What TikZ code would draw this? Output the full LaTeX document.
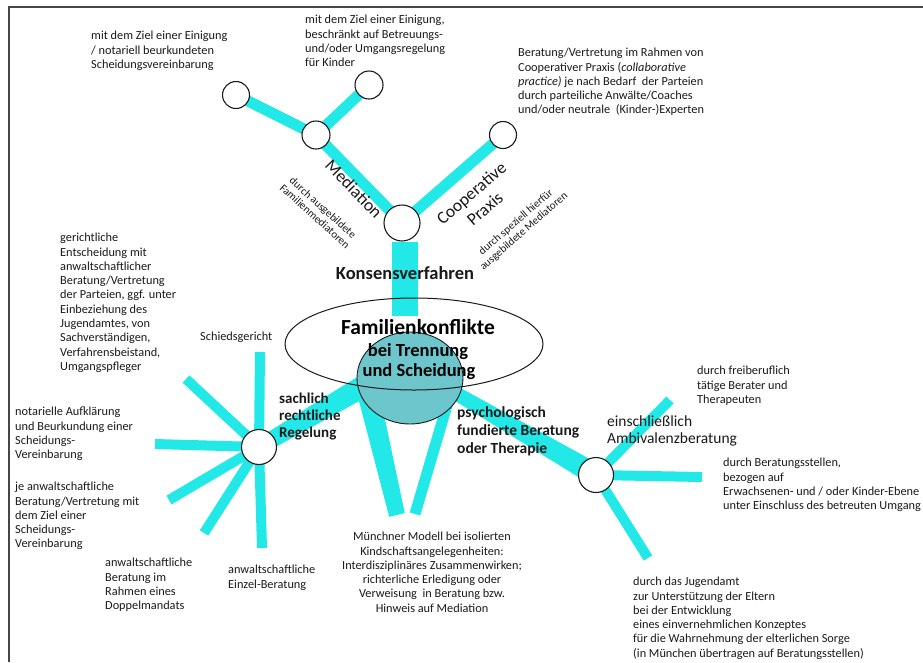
\documentclass[tikz,border=0pt]{standalone}
\usepackage{fontspec}
\setmainfont{Carlito}
\usetikzlibrary{calc,shapes.geometric,backgrounds}
\definecolor{bandcyan}{RGB}{35,232,232}
\definecolor{coreteal}{RGB}{108,198,204}
\definecolor{inkgray}{RGB}{25,25,25}
\definecolor{framegray}{RGB}{70,70,70}

\begin{document}
\begin{tikzpicture}[x=1pt, y=-1pt,
    spoke/.style={bandcyan, line width=10pt},
    branch/.style={bandcyan, line width=11pt},
    knot/.style={circle, draw=inkgray, line width=1.1pt, fill=white, inner sep=0pt},
    note/.style={inner sep=0pt, text=inkgray, align=left, anchor=north west, font=\fontsize{12.3}{14.3}\selectfont},
    tag/.style={inner sep=0pt, text=inkgray, align=left, anchor=north west, font=\bfseries\fontsize{15.5}{18}\selectfont},
    slant/.style={inner sep=0pt, text=inkgray, align=center}]
    \useasboundingbox (0,0) rectangle (923,662);
    \draw[line width=1.6pt, framegray] (9,662) -- (9,7) -- (923,7);

    \node[ellipse, draw=inkgray, fill=coreteal, line width=0.9pt, minimum width=106pt, minimum height=92pt] (core) at (410,378) {};
    \node[ellipse, draw=inkgray, line width=1pt, minimum width=258pt, minimum height=92pt] (oval) at (414,344) {};

    \node[knot, minimum size=36pt] (junc) at (402,223) {};
    \node[knot, minimum size=28pt] (medi) at (316,135) {};
    \node[knot, minimum size=27pt] (mediL) at (236,95) {};
    \node[knot, minimum size=28pt] (mediR) at (369,85) {};
    \node[knot, minimum size=27pt] (coop) at (503,135) {};
    \node[knot, minimum size=35pt] (hubL) at (259,447) {};
    \node[knot, minimum size=35pt] (hubR) at (596,475) {};

    \coordinate (konsEnd) at (405,316);
    \coordinate (sachTop) at (362,387);
    \coordinate (vlTop) at (368,392);
    \coordinate (vlEnd) at (397,515);
    \coordinate (vrTop) at (450,395);
    \coordinate (vrEnd) at (415,514);
    \coordinate (psyTop) at (457,394);
    \coordinate (lUp) at (260,352);
    \coordinate (lUpLeft) at (186,379);
    \coordinate (lLeft) at (155,444);
    \coordinate (lDownLeft) at (169,500);
    \coordinate (lDownMid) at (204,533);
    \coordinate (lDown) at (262,548);
    \coordinate (rUp) at (670,400);
    \coordinate (rRight) at (702,477);
    \coordinate (rDown) at (648,558);

    \begin{pgfonlayer}{background}
        \draw[bandcyan, line width=26pt] (junc.south -| konsEnd) -- (konsEnd);
        \draw[branch] (junc.center) -- (medi.center);
        \draw[branch] (junc.center) -- (coop.center);
        \draw[branch] (medi.center) -- (mediL.center);
        \draw[branch] (medi.center) -- (mediR.center);
        \fill[bandcyan] ($(hubL.center)!8pt!90:(sachTop)$) -- ($(sachTop)!11pt!-90:(hubL.center)$) -- ($(sachTop)!11pt!90:(hubL.center)$) -- ($(hubL.center)!8pt!-90:(sachTop)$) -- cycle;
        \fill[bandcyan] ($(vlTop)!11pt!90:(vlEnd)$) -- ($(vlEnd)!8pt!-90:(vlTop)$) -- ($(vlEnd)!8pt!90:(vlTop)$) -- ($(vlTop)!11pt!-90:(vlEnd)$) -- cycle;
        \draw[bandcyan, line width=11pt] (vrTop) -- (vrEnd);
        \fill[bandcyan] ($(psyTop)!7pt!90:(hubR.center)$) -- ($(hubR.center)!11pt!-90:(psyTop)$) -- ($(hubR.center)!11pt!90:(psyTop)$) -- ($(psyTop)!7pt!-90:(hubR.center)$) -- cycle;
        \foreach \tip in {lUp,lUpLeft,lLeft,lDownLeft,lDownMid,lDown}
            \draw[spoke] (hubL.center) -- (\tip);
        \foreach \tip in {rUp,rRight,rDown}
            \draw[spoke] (hubR.center) -- (\tip);
    \end{pgfonlayer}

    \node[anchor=base, inner sep=0pt, font=\bfseries\fontsize{21.5}{24}\selectfont] (famA) at (418,334) {Familienkonflikte};
    \node[anchor=base, inner sep=0pt, font=\bfseries\fontsize{18.5}{21}\selectfont] (famB) at (418,356) {bei Trennung};
    \node[anchor=base, inner sep=0pt, font=\bfseries\fontsize{18.5}{21}\selectfont] (famC) at (419,376) {und Scheidung};
    \node[inner sep=0pt, text=inkgray, font=\bfseries\fontsize{18.5}{21}\selectfont] (kons) at (405,273) {Konsensverfahren};

    \node[slant, rotate=-46, font=\fontsize{17.5}{20}\selectfont] (lblMedi) at (354,189) {Mediation};
    \node[slant, rotate=-42, font=\fontsize{11}{12}\selectfont] (lblMediSub) at (319,212) {durch ausgebildete\\Familienmediatoren};
    \node[slant, rotate=41, font=\fontsize{17.5}{20.5}\selectfont] (lblCoop) at (478,201) {Cooperative\\Praxis};
    \node[slant, rotate=41, font=\fontsize{11}{12}\selectfont] (lblCoopSub) at (520,227) {durch speziell hierfür\\ausgebildete Mediatoren};

    \node[note] (tMediL) at (91,31) {mit dem Ziel einer Einigung\\/ notariell beurkundeten\\Scheidungsvereinbarung};
    \node[note] (tMediR) at (305,15) {mit dem Ziel einer Einigung,\\beschränkt auf Betreuungs-\\und/oder Umgangsregelung\\für Kinder};
    \node[note] (tCoop) at (518,48) {Beratung/Vertretung im Rahmen von\\Cooperativer Praxis (\textit{collaborative}\\\textit{practice)} je nach Bedarf\ \ der Parteien\\durch parteiliche Anwälte/Coaches\\und/oder neutrale\ \ (Kinder-)Experten};
    \node[note] (tGericht) at (60,233) {gerichtliche\\Entscheidung mit\\anwaltschaftlicher\\Beratung/Vertretung\\der Parteien, ggf. unter\\Einbeziehung des\\Jugendamtes, von\\Sachverständigen,\\Verfahrensbeistand,\\Umgangspfleger};
    \node[note] (tSchied) at (200,332) {Schiedsgericht};
    \node[note] (tNotar) at (15,407) {notarielle Aufklärung\\und Beurkundung einer\\Scheidungs-\\Vereinbarung};
    \node[note] (tJeAnw) at (15,482) {je anwaltschaftliche\\Beratung/Vertretung mit\\dem Ziel einer\\Scheidungs-\\Vereinbarung};
    \node[note] (tDoppel) at (105,558) {anwaltschaftliche\\Beratung im\\Rahmen eines\\Doppelmandats};
    \node[note] (tEinzel) at (228,565) {anwaltschaftliche\\Einzel-Beratung};
    \node[tag, font=\bfseries\fontsize{15}{17}\selectfont] (tSach) at (279,393) {sachlich\\rechtliche\\Regelung};
    \node[tag] (tPsych) at (457,406) {psychologisch\\fundierte Beratung\\oder Therapie};
    \node[tag, font=\fontsize{15.5}{17}\selectfont] (tAmbi) at (607,416) {einschließlich\\Ambivalenzberatung};
    \node[note] (tFrei) at (697,366) {durch freiberuflich\\tätige Berater und\\Therapeuten};
    \node[note] (tStellen) at (723,458) {durch Beratungsstellen,\\bezogen auf\\Erwachsenen- und / oder Kinder-Ebene\\unter Einschluss des betreuten Umgang};
    \node[note] (tJugend) at (633,577) {durch das Jugendamt\\zur Unterstützung der Eltern\\bei der Entwicklung\\eines einvernehmlichen Konzeptes\\für die Wahrnehmung der elterlichen Sorge\\(in München übertragen auf Beratungsstellen)};
    \node[note, align=center, anchor=north] (tMuenchen) at (432,532) {Münchner Modell bei isolierten\\Kindschaftsangelegenheiten:\\Interdisziplinäres Zusammenwirken;\\richterliche Erledigung oder\\Verweisung\ \ in Beratung bzw.\\Hinweis auf Mediation};
\end{tikzpicture}
\end{document}
